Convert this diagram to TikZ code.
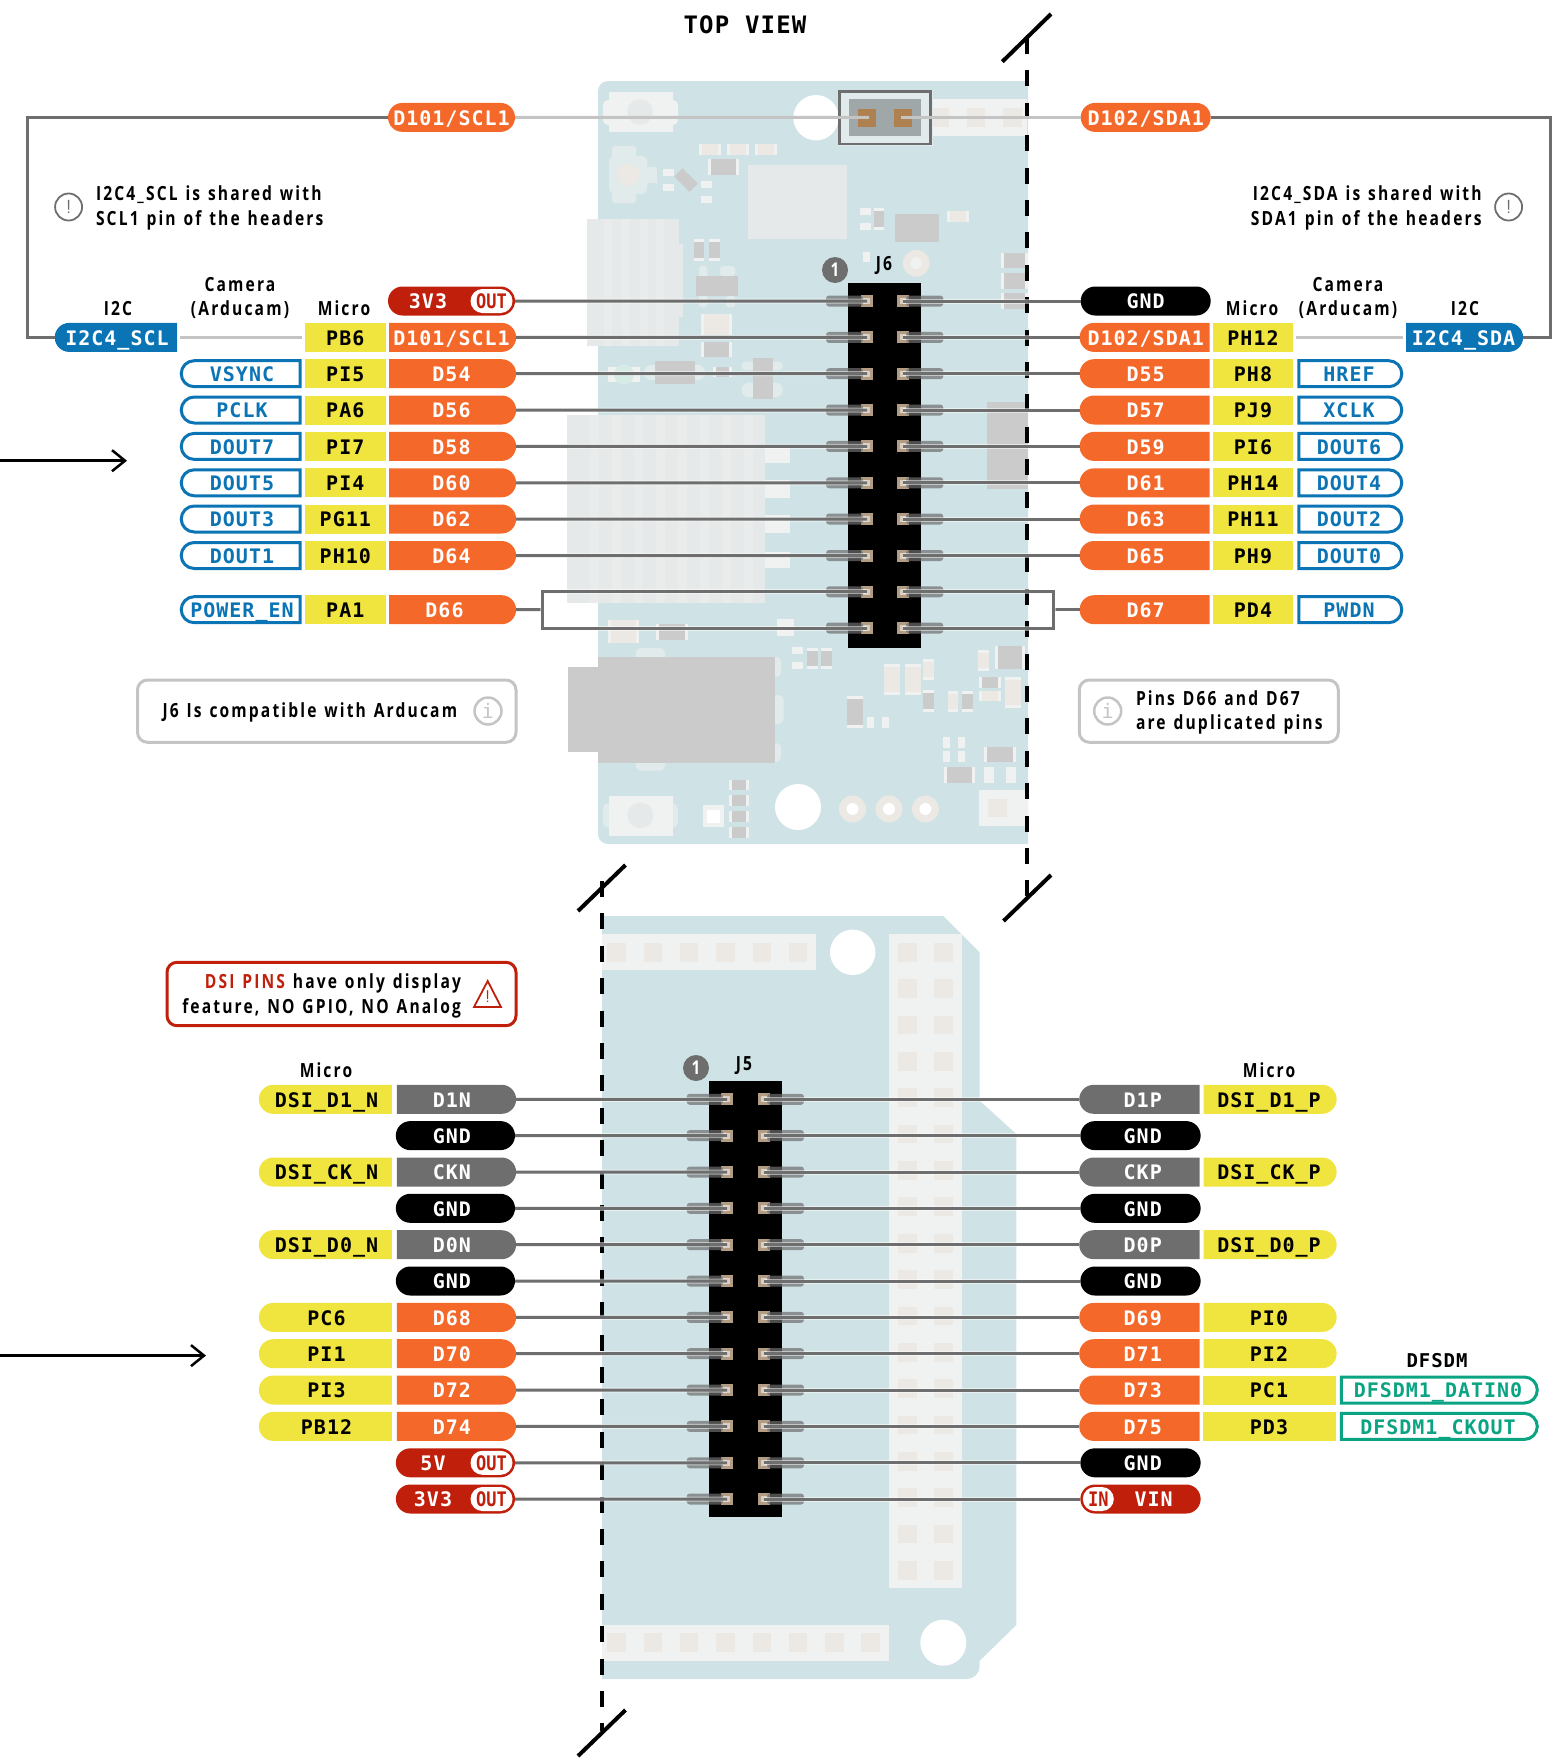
\documentclass[tikz,border=0pt]{standalone}
\usepackage{fontspec}
\usepackage{tikz}
\usetikzlibrary{arrows.meta,shapes.misc}
\newfontfamily\monofam[LetterSpace=5]{DejaVu Sans Mono}
\newfontfamily\narrowfam[FakeStretch=0.8,LetterSpace=11,WordSpace=1.27]{Open Sans}
\newfontfamily\slimfam[FakeStretch=0.85]{DejaVu Sans Mono}
\definecolor{cboard}{HTML}{CFE3E6}
\definecolor{corange}{HTML}{F4682A}
\definecolor{cyellow}{HTML}{F0E43F}
\definecolor{cblue}{HTML}{0B74B5}
\definecolor{cgreen}{HTML}{0BA483}
\definecolor{cred}{HTML}{C0200B}
\definecolor{cwire}{HTML}{6E6E6E}
\definecolor{cfaint}{HTML}{C4C4C4}
\definecolor{cgrey}{HTML}{CBCBCB}
\definecolor{cpink}{HTML}{ECE8E4}
\definecolor{cpale}{HTML}{F0F2F1}
\definecolor{cmist}{HTML}{E2EBEB}
\definecolor{csink}{HTML}{E6E9E9}
\definecolor{cpad}{HTML}{B39C84}
\definecolor{cled}{HTML}{D6EAE6}
\begin{document}
\begin{tikzpicture}[
  x=1pt,y=-1pt,
  every node/.style={inner sep=0pt,outer sep=0pt},
  pill/.style={shape=rounded rectangle,minimum height=29pt,text height=15.5pt,text depth=0pt,text=white,font=\monofam\bfseries\fontsize{20}{24}\selectfont},
  roundw/.style={pill,rounded rectangle east arc=none},
  rounde/.style={pill,rounded rectangle west arc=none},
  micro/.style={shape=rectangle,minimum height=29pt,text height=15.5pt,text depth=0pt,fill=cyellow,text=black,font=\monofam\bfseries\fontsize{20}{24}\selectfont},
  camw/.style={roundw,minimum height=26pt,draw=cblue,line width=3pt,fill=white,text=cblue},
  came/.style={rounde,minimum height=26pt,draw=cblue,line width=3pt,fill=white,text=cblue},
  dfsd/.style={rounde,minimum height=26pt,draw=cgreen,line width=3pt,fill=white,text=cgreen},
  badge/.style={shape=rounded rectangle,minimum height=24pt,minimum width=42pt,text height=15.5pt,text depth=0pt,fill=white,text=cred,font=\slimfam\bfseries\fontsize{20}{24}\selectfont},
  plate/.style={text height=15.5pt,text depth=0pt,text=white,font=\monofam\bfseries\fontsize{20}{24}\selectfont},
  toleft/.style={execute at end node=\kern7pt},
  toright/.style={execute at begin node=\kern4.5pt},
  heading/.style={align=center,font=\narrowfam\bfseries\fontsize{19.5}{24.5}\selectfont},
  note/.style={heading},
  notebox/.style={draw=cfaint,line width=3pt,rounded corners=10pt},
  noteicon/.style={shape=circle,minimum size=27pt,draw=cwire,line width=1.8pt,text=cwire,font=\fontfamily{lmss}\selectfont\fontsize{19}{20}\selectfont},
  infoicon/.style={noteicon,draw=cfaint,line width=2.5pt,text=cfaint,font=\monofam\fontsize{20}{20}\selectfont},
  one/.style={shape=circle,minimum size=26pt,fill=cwire,text=white,font=\narrowfam\bfseries\fontsize{19}{20}\selectfont},
  wire/.style={draw=cwire,line width=3pt,preaction={draw=white,line width=5pt,opacity=.5}},
  lightwire/.style={draw=cfaint,line width=3pt},
  cutline/.style={line width=4pt,dash pattern=on 16pt off 16.4pt},
  slash/.style={line width=4pt}]
\useasboundingbox (0,0) rectangle (1558,1764);
% upper board
\fill[cboard,rounded corners=10pt] (1028,81) -- (598,81) -- (598,844) -- (1028,844);
\fill[cpale,rounded corners=5pt] (603,100) rectangle (678,125);
\fill[cpale] (609,92) rectangle (673,132);
\fill[csink] (640,112) circle (12.7);
\fill[white] (816,117.7) circle (22.7);
\fill[cpale] (921,99.3) rectangle (1027,135.7);
\foreach \x in {930.7,966.7,1003.3} \fill[cpink] (\x,108) rectangle (\x+18.3,126.7);
% connector and small parts at the top
\fill[cmist,rounded corners=3pt] (612,146) rectangle (636,203.3);
\fill[cmist,rounded corners=6pt] (609,156) rectangle (647.3,194);
\fill[cmist] (647.3,167.3) rectangle (656.7,182.7);
\fill[cpink] (628.3,174.7) circle (11);
\fill[csink] (747.7,165) rectangle (846.7,239.3);
\fill[cgrey] (895,214) rectangle (938.7,241.7);
\fill[cgrey] (987,402) rectangle (1027.7,489);
\fill[cgrey] (674.1,176.5) -- (682.5,168.1) -- (697.9,183.5) -- (689.5,191.9) -- cycle;
\foreach \a/\b/\c/\d in {662.7/169.3/673.7/176,662.7/184.3/673.7/190.7,701/181/711.7/188,701/196/711.7/202.7,860/208/870.7/215,860/223/870.7/230,862.7/251.7/870/261.7,777/619/793.6/636,792/647.3/803/654,792/662.3/803/669,867/716.7/874/727.7,881.8/716.7/888.6/727.7,942.9/737.3/950/747.7,957.5/737.3/965/747.7,942.9/751/950/761.7,957.5/751/965/761.7,984/767.3/994/782.7,1006/767.3/1015.7/782.7}
  \fill[cpale] (\a,\b) rectangle (\c,\d);
% heat sinks
\fill[csink] (679,244) rectangle (682.7,316.7);
\fill[csink] (586.7,219) rectangle (679,345.7);
\foreach \x in {604,622,640,656} \fill[cpale!35!csink] (\x,219) rectangle (\x+8,345.7);
\foreach \b/\d in {448/463,480/498,515/532.7,551.7/567.7} \fill[cpale] (765,\b) rectangle (790,\d);
\fill[csink] (567,415) rectangle (764.6,602.7);
\foreach \x in {590,612,634,656,678,700,722,744} \fill[cpale!35!csink] (\x,415) rectangle (\x+9,602.7);
% parts with ends, vertical
\foreach \a/\b/\c/\d/\k in {874/208/884.3/230/cgrey,694/239.3/704.3/260.7/cgrey,709.3/239.3/719.7/260.7/cgrey,806.8/647.7/817.5/669/cgrey,821/647.7/832/669/cgrey,884/664/900/695.3/cpink,905/664/920.7/695.3/cpink,923/659/934/680/cpink,923/690/934/711.7/cgrey,846.8/696/862.9/727.7/cgrey,947.5/690.7/957.9/711.7/cpink,961.8/690.7/972.5/711.7/cgrey,977.9/650/988.6/670.7/cpink,1005/677.3/1020.7/707.7/cpink}
  {\fill[cpale] (\a,\b) rectangle (\c,\d); \fill[\k] (\a,\b+3) rectangle (\c,\d-3);}
% parts with ends, horizontal
\foreach \a/\b/\c/\d/\k in {699/144/720.7/154.7/cpink,726.7/144/748.7/154.7/cpink,755/144/776.7/154.7/cpink,708/158.7/739.3/175/cgrey,947/211/968.7/221.7/cpink,1001/252.7/1027.7/268.3/cgrey,1001/273.3/1027.7/289/cgrey,1001/293.3/1027.7/309/cgrey,701.3/314/732.3/335/cpink,701.3/342/732.3/356.7/cgrey,712.7/367.3/732.3/377.3/cgrey,607.9/620/639.3/643.3/cpink,656/624/687.5/640/cgrey,994.6/646/1025/669/cgrey,979/676.7/1000.7/687.7/cgrey,979/690.7/1000.7/700.7/cpink,984.3/746.7/1015.7/762/cgrey,944/767/975/782.7/cgrey,728.6/780/749.3/790/cgrey,728.6/795.3/749.3/806/cgrey,728.6/811/749.3/822.3/cgrey,728.6/827/749.3/837.7/cgrey}
  {\fill[cpale] (\a,\b) rectangle (\c,\d); \fill[\k] (\a+3,\b) rectangle (\c-3,\d);}
% regulators and led
\fill[cmist,rounded corners=3pt] (699,266) rectangle (707.3,307.3);
\fill[cmist,rounded corners=3pt] (720,266) rectangle (735,276);
\fill[cmist,rounded corners=3pt] (726,296) rectangle (735,307.3);
\fill[cgrey] (696,276) rectangle (737.7,296);
\fill[cpale] (608.3,366.7) rectangle (640,381.7);
\fill[cled] (624,374.3) circle (10);
\fill[cmist,rounded corners=7pt] (644,365) rectangle (705,380);
\fill[cgrey] (655,361) rectangle (694.7,383.7);
\fill[cmist,rounded corners=4pt] (741.7,361.7) rectangle (782.7,370);
\fill[cmist,rounded corners=7pt] (741.7,382.7) rectangle (782.7,397.3);
\fill[cgrey] (753.3,358.3) rectangle (772.7,399.3);
\fill[cpink] (916.3,263.3) circle (13.3);
\fill[cpale] (916.3,263.3) circle (6);
% usb connector
\fill[cmist,rounded corners=6pt] (635.7,648) rectangle (665,770.7);
\fill[cmist,rounded corners=5pt] (770,657) rectangle (781,677);
\fill[cmist,rounded corners=5pt] (770,695) rectangle (783.6,724);
\fill[cmist,rounded corners=5pt] (770,743) rectangle (781,762);
\fill[cgrey] (598,657) rectangle (775,762.7);
\fill[cgrey] (567.9,667) rectangle (598,751.7);
% lower parts of the upper board
\fill[cmist,rounded corners=5pt] (602.9,803.3) rectangle (677.9,827.7);
\fill[cpale] (609,796) rectangle (672.5,835.7);
\fill[csink] (640.4,815.3) circle (13);
\fill[cpale] (702.9,805.3) rectangle (724.3,826.7);
\fill[white] (707,810) rectangle (719.6,822.7);
\fill[white] (798,807) circle (23);
\foreach \x in {852.5,889,925.4} {\fill[cpink] (\x,809) circle (13.5); \fill[white] (\x,809) circle (6);}
\fill[cpale] (979,790) rectangle (1027.7,826);
\fill[cpink] (987.5,799) rectangle (1007,817);
% jumper
\fill[cmist] (837.5,89.5) rectangle (932.5,146);
\draw[draw=cwire,line width=2.5pt] (839.3,91.3) rectangle (930.7,144);
\fill[gray!60!cboard] (848.7,99.3) rectangle (921.3,135.7);
\fill[brown!75!gray] (857.7,108.7) rectangle (876,126.7);
\fill[brown!75!gray] (894.3,108.7) rectangle (912.3,126.7);
\coordinate (jtl) at (869,117.4);
\coordinate (jtr) at (901,117.4);
% lower board
\fill[cboard] (602,916) -- (943.3,916) -- (979.7,952.3) -- (979.7,1100.7) -- (1016.3,1134) -- (1016.3,1625) -- (979.7,1660.7) [rounded corners=13pt] -- (979.7,1679) -- (960,1679) [sharp corners] -- (602,1679) -- cycle;
\fill[cpale] (602,934) rectangle (816.3,970.3);
\fill[cpale] (889,934) rectangle (961.7,1588.3);
\fill[cpale] (602,1625) rectangle (889,1660.7);
\foreach \i in {0,...,5} \fill[cpink] (607.3+36.3*\i,943) rectangle (625.7+36.3*\i,961.7);
\foreach \i in {0,...,7} \fill[cpink] (607.3+36.3*\i,1633.3) rectangle (625.7+36.3*\i,1651.7);
\foreach \i in {0,...,17} {\fill[cpink] (898,943+36.35*\i) rectangle (916.7,961.7+36.35*\i); \fill[cpink] (934,943+36.35*\i) rectangle (952.7,961.7+36.35*\i);}
\fill[white] (852.7,952.3) circle (22.7);
\fill[white] (943.3,1642.7) circle (23);
% headers
\fill[black] (848,283) rectangle (920.7,648);
\fill[black] (709,1081) rectangle (781.7,1516.7);
\foreach \y [count=\i from 0] in {301,337.4,373.7,410,446.4,482.8,519,555.5,591.8,628}
  {\fill[cpad] (861,\y-6) rectangle (873,\y+6); \fill[cpad] (896.7,\y-6) rectangle (908.7,\y+6);
   \fill[cpad!50!white] (863,\y-3) rectangle (870,\y+3); \fill[cpad!50!white] (900,\y-3) rectangle (906.7,\y+3);
   \fill[cwire,opacity=.7,rounded corners=3pt] (826,\y-5.5) rectangle (863,\y+5.5);
   \fill[cwire,opacity=.7,rounded corners=3pt] (906,\y-5.5) rectangle (943.3,\y+5.5);
   \coordinate (jl\i) at (867,\y); \coordinate (jr\i) at (902.7,\y);}
\foreach \y [count=\i from 0] in {1099.3,1135.6,1172,1208.3,1244.7,1281,1317.4,1353.7,1390,1426.4,1462.8,1499}
  {\fill[cpad] (721,\y-6) rectangle (733,\y+6); \fill[cpad] (758,\y-6) rectangle (770,\y+6);
   \fill[cpad!50!white] (723,\y-3) rectangle (730,\y+3); \fill[cpad!50!white] (761,\y-3) rectangle (768,\y+3);
   \fill[cwire,opacity=.7,rounded corners=3pt] (686.7,\y-5.5) rectangle (723,\y+5.5);
   \fill[cwire,opacity=.7,rounded corners=3pt] (767,\y-5.5) rectangle (804,\y+5.5);
   \coordinate (kl\i) at (727,\y); \coordinate (kr\i) at (764,\y);}
% cut lines
\draw[cutline] (1027,38) -- (1027,896);
\draw[cutline] (602,881) -- (602,1731);
\draw[slash] (1002.3,61.7) -- (1051,14);
\draw[slash] (1003.5,921) -- (1051,875);
\draw[slash] (578,911) -- (625.5,865);
\draw[slash] (578,1756) -- (625.5,1710);
% arrows
\coordinate (arra) at (0,460.7);
\coordinate (arrb) at (127,460.7);
\coordinate (arrc) at (0,1355.6);
\coordinate (arrd) at (206,1355.6);
\draw[line width=2.5pt,-{Straight Barb[length=13pt,width=21pt]}] (arra) -- (arrb);
\draw[line width=2.5pt,-{Straight Barb[length=13pt,width=21pt]}] (arrc) -- (arrd);
% titles
\node[font=\monofam\bfseries\fontsize{24}{28}\selectfont] (title) at (745,25) {TOP VIEW};
\node[heading] (hia) at (118,309) {I2C};
\node[heading] (hca) at (240,298) {Camera\\(Arducam)};
\node[heading] (hma) at (344,308) {Micro};
\node[heading] (hmb) at (1252,308) {Micro};
\node[heading] (hcb) at (1348,298) {Camera\\(Arducam)};
\node[heading] (hib) at (1465,309) {I2C};
\node[heading] (hmc) at (326,1070) {Micro};
\node[heading] (hmd) at (1269,1070) {Micro};
\node[font=\monofam\bfseries\fontsize{19}{20}\selectfont] (hdf) at (1437,1361) {DFSDM};
\node[heading] (hja) at (884,266) {J6};
\node[heading] (hjb) at (744,1066) {J5};
\node[one] (ona) at (835,270) {1};
\node[one] (onb) at (696,1068) {1};
% notes
\node[noteicon] (ica) at (68.6,207) {!};
\node[note,anchor=west,align=left] (nta) at (96,208) {I2C4\_SCL is shared with\\SCL1 pin of the headers};
\node[note,anchor=east,align=right] (ntb) at (1481.6,208) {I2C4\_SDA is shared with\\SDA1 pin of the headers};
\node[noteicon] (icb) at (1508.6,207) {!};
\draw[notebox] (137.5,680) rectangle (516,742.3);
\node[note,anchor=west] (ntc) at (162.5,712) {J6 Is compatible with Arducam};
\node[infoicon] (icc) at (488,711) {i};
\draw[notebox] (1079.3,680) rectangle (1338.3,742.3);
\node[infoicon] (icd) at (1107.7,711) {i};
\node[note,anchor=west,align=left] (ntd) at (1136,712.5) {Pins D66 and D67\\are duplicated pins};
\draw[notebox,draw=cred] (167,962.3) rectangle (516,1025.7);
\node[note,anchor=east,align=right] (nte) at (461,996) {\textcolor{cred}{DSI PINS} have only display\\feature, NO GPIO, NO Analog};
\draw[cred,line width=1.8pt] (487.7,981) -- (501,1007) -- (474,1007) -- cycle;
\node[text=cred,font=\fontfamily{lmss}\selectfont\fontsize{17}{20}\selectfont] (wrn) at (487.7,997) {!};
% J6 pins left
\node[pill,minimum width=127pt,fill=corange] (ptl) at (451.5,117.4) {D101/SCL1};
\node[pill,minimum width=127pt,fill=cred] (pl0) at (451.5,301) {};
\node[plate] (pl0t) at (428,301) {3V3};
\node[badge] (pl0b) at (491.5,301) {OUT};
\node[rounde,minimum width=127pt,fill=corange] (pl1) at (451.5,337.4) {D101/SCL1};
\node[rounde,minimum width=127pt,fill=corange] (pl2) at (451.5,373.7) {D54};
\node[rounde,minimum width=127pt,fill=corange] (pl3) at (451.5,410) {D56};
\node[rounde,minimum width=127pt,fill=corange] (pl4) at (451.5,446.4) {D58};
\node[rounde,minimum width=127pt,fill=corange] (pl5) at (451.5,482.8) {D60};
\node[rounde,minimum width=127pt,fill=corange] (pl6) at (451.5,519) {D62};
\node[rounde,minimum width=127pt,fill=corange] (pl7) at (451.5,555.5) {D64};
\node[rounde,minimum width=127pt,fill=corange,execute at end node=\kern14pt] (pl8) at (451.5,609.7) {D66};
% J6 micro left
\node[micro,minimum width=80.5pt] (ml1) at (345.3,337.4) {PB6};
\node[micro,minimum width=80.5pt] (ml2) at (345.3,373.7) {PI5};
\node[micro,minimum width=80.5pt] (ml3) at (345.3,410) {PA6};
\node[micro,minimum width=80.5pt] (ml4) at (345.3,446.4) {PI7};
\node[micro,minimum width=80.5pt] (ml5) at (345.3,482.8) {PI4};
\node[micro,minimum width=80.5pt] (ml6) at (345.3,519) {PG11};
\node[micro,minimum width=80.5pt] (ml7) at (345.3,555.5) {PH10};
\node[micro,minimum width=80.5pt] (ml8) at (345.3,609.7) {PA1};
% J6 camera left
\node[roundw,minimum width=122.3pt,fill=cblue] (il) at (117,337.4) {I2C4\_SCL};
\node[camw,minimum width=119pt] (cl2) at (242,373.7) {VSYNC};
\node[camw,minimum width=119pt] (cl3) at (242,410) {PCLK};
\node[camw,minimum width=119pt] (cl4) at (242,446.4) {DOUT7};
\node[camw,minimum width=119pt] (cl5) at (242,482.8) {DOUT5};
\node[camw,minimum width=119pt] (cl6) at (242,519) {DOUT3};
\node[camw,minimum width=119pt] (cl7) at (242,555.5) {DOUT1};
\node[camw,minimum width=119pt] (cl8) at (242,609.7) {POWER\_EN};
% J6 pins right
\node[pill,minimum width=130pt,fill=corange] (ptr) at (1145.7,117.4) {D102/SDA1};
\node[pill,minimum width=130pt,fill=black] (pr0) at (1145.7,301) {GND};
\node[roundw,minimum width=130pt,fill=corange] (pr1) at (1145.7,337.4) {D102/SDA1};
\node[roundw,minimum width=130pt,fill=corange] (pr2) at (1145.7,373.7) {D55};
\node[roundw,minimum width=130pt,fill=corange] (pr3) at (1145.7,410) {D57};
\node[roundw,minimum width=130pt,fill=corange] (pr4) at (1145.7,446.4) {D59};
\node[roundw,minimum width=130pt,fill=corange] (pr5) at (1145.7,482.8) {D61};
\node[roundw,minimum width=130pt,fill=corange] (pr6) at (1145.7,519) {D63};
\node[roundw,minimum width=130pt,fill=corange] (pr7) at (1145.7,555.5) {D65};
\node[roundw,minimum width=130pt,fill=corange] (pr8) at (1145.7,609.7) {D67};
% J6 micro right
\node[micro,minimum width=80pt] (mr1) at (1253,337.4) {PH12};
\node[micro,minimum width=80pt] (mr2) at (1253,373.7) {PH8};
\node[micro,minimum width=80pt] (mr3) at (1253,410) {PJ9};
\node[micro,minimum width=80pt] (mr4) at (1253,446.4) {PI6};
\node[micro,minimum width=80pt] (mr5) at (1253,482.8) {PH14};
\node[micro,minimum width=80pt] (mr6) at (1253,519) {PH11};
\node[micro,minimum width=80pt] (mr7) at (1253,555.5) {PH9};
\node[micro,minimum width=80pt] (mr8) at (1253,609.7) {PD4};
% J6 camera right
\node[rounde,minimum width=117pt,fill=cblue] (ir) at (1463.5,337.4) {I2C4\_SDA};
\node[came,minimum width=103pt] (cr2) at (1349,373.7) {HREF};
\node[came,minimum width=103pt] (cr3) at (1349,410) {XCLK};
\node[came,minimum width=103pt] (cr4) at (1349,446.4) {DOUT6};
\node[came,minimum width=103pt] (cr5) at (1349,482.8) {DOUT4};
\node[came,minimum width=103pt] (cr6) at (1349,519) {DOUT2};
\node[came,minimum width=103pt] (cr7) at (1349,555.5) {DOUT0};
\node[came,minimum width=103pt] (cr8) at (1349,609.7) {PWDN};
% J5 left
\node[rounde,toleft,minimum width=119.2pt,fill=cwire] (ql0) at (455.4,1099.3) {D1N};
\node[pill,toleft,minimum width=119.2pt,fill=black] (ql1) at (455.4,1135.6) {GND};
\node[rounde,toleft,minimum width=119.2pt,fill=cwire] (ql2) at (455.4,1172) {CKN};
\node[pill,toleft,minimum width=119.2pt,fill=black] (ql3) at (455.4,1208.3) {GND};
\node[rounde,toleft,minimum width=119.2pt,fill=cwire] (ql4) at (455.4,1244.7) {D0N};
\node[pill,toleft,minimum width=119.2pt,fill=black] (ql5) at (455.4,1281) {GND};
\node[rounde,toleft,minimum width=119.2pt,fill=corange] (ql6) at (455.4,1317.4) {D68};
\node[rounde,toleft,minimum width=119.2pt,fill=corange] (ql7) at (455.4,1353.7) {D70};
\node[rounde,toleft,minimum width=119.2pt,fill=corange] (ql8) at (455.4,1390) {D72};
\node[rounde,toleft,minimum width=119.2pt,fill=corange] (ql9) at (455.4,1426.4) {D74};
\node[pill,minimum width=119.2pt,fill=cred] (ql10) at (455.4,1462.8) {};
\node[plate] (ql10t) at (433,1462.8) {5V};
\node[badge] (ql10b) at (491.5,1462.8) {OUT};
\node[pill,minimum width=119.2pt,fill=cred] (ql11) at (455.4,1499) {};
\node[plate] (ql11t) at (433,1499) {3V3};
\node[badge] (ql11b) at (491.5,1499) {OUT};
% J5 micro left
\node[roundw,minimum width=133pt,fill=cyellow,text=black] (yl0) at (326.5,1099.3) {DSI\_D1\_N};
\node[roundw,minimum width=133pt,fill=cyellow,text=black] (yl2) at (326.5,1172) {DSI\_CK\_N};
\node[roundw,minimum width=133pt,fill=cyellow,text=black] (yl4) at (326.5,1244.7) {DSI\_D0\_N};
\node[roundw,minimum width=133pt,fill=cyellow,text=black] (yl6) at (326.5,1317.4) {PC6};
\node[roundw,minimum width=133pt,fill=cyellow,text=black] (yl7) at (326.5,1353.7) {PI1};
\node[roundw,minimum width=133pt,fill=cyellow,text=black] (yl8) at (326.5,1390) {PI3};
\node[roundw,minimum width=133pt,fill=cyellow,text=black] (yl9) at (326.5,1426.4) {PB12};
% J5 right
\node[roundw,toright,minimum width=120.3pt,fill=cwire] (qr0) at (1140.5,1099.3) {D1P};
\node[pill,toright,minimum width=120.3pt,fill=black] (qr1) at (1140.5,1135.6) {GND};
\node[roundw,toright,minimum width=120.3pt,fill=cwire] (qr2) at (1140.5,1172) {CKP};
\node[pill,toright,minimum width=120.3pt,fill=black] (qr3) at (1140.5,1208.3) {GND};
\node[roundw,toright,minimum width=120.3pt,fill=cwire] (qr4) at (1140.5,1244.7) {D0P};
\node[pill,toright,minimum width=120.3pt,fill=black] (qr5) at (1140.5,1281) {GND};
\node[roundw,toright,minimum width=120.3pt,fill=corange] (qr6) at (1140.5,1317.4) {D69};
\node[roundw,toright,minimum width=120.3pt,fill=corange] (qr7) at (1140.5,1353.7) {D71};
\node[roundw,toright,minimum width=120.3pt,fill=corange] (qr8) at (1140.5,1390) {D73};
\node[roundw,toright,minimum width=120.3pt,fill=corange] (qr9) at (1140.5,1426.4) {D75};
\node[pill,toright,minimum width=120.3pt,fill=black] (qr10) at (1140.5,1462.8) {GND};
\node[pill,minimum width=120.3pt,fill=cred] (qr11) at (1140.5,1499) {};
\node[badge,minimum width=31pt] (qr11b) at (1098.3,1499) {IN};
\node[plate] (qr11t) at (1153.6,1499) {VIN};
% J5 micro right
\node[rounde,minimum width=133pt,fill=cyellow,text=black] (yr0) at (1269,1099.3) {DSI\_D1\_P};
\node[rounde,minimum width=133pt,fill=cyellow,text=black] (yr2) at (1269,1172) {DSI\_CK\_P};
\node[rounde,minimum width=133pt,fill=cyellow,text=black] (yr4) at (1269,1244.7) {DSI\_D0\_P};
\node[rounde,minimum width=133pt,fill=cyellow,text=black] (yr6) at (1269,1317.4) {PI0};
\node[rounde,minimum width=133pt,fill=cyellow,text=black] (yr7) at (1269,1353.7) {PI2};
\node[micro,minimum width=133pt] (yr8) at (1269,1390) {PC1};
\node[micro,minimum width=133pt] (yr9) at (1269,1426.4) {PD3};
\node[dfsd,minimum width=196pt] (dfa) at (1438,1390) {DFSDM1\_DATIN0};
\node[dfsd,minimum width=196pt] (dfb) at (1438,1426.4) {DFSDM1\_CKOUT};
% wires J6
\coordinate (dla) at (542,609.7);
\coordinate (dlb) at (1053.6,609.7);
\coordinate (cla) at (27,227);
\coordinate (clb) at (1550,227);
\draw[lightwire] (ptl) -- (jtl); \draw[lightwire] (ptr) -- (jtr);
\draw[wire] (ptl.west) -| (cla) |- (il.west);
\draw[wire] (ptr.east) -| (clb) |- (ir.east);
\draw[lightwire,shorten <=3pt,shorten >=3pt] (il.east) -- (ml1.west);
\draw[lightwire,shorten <=3pt,shorten >=3pt] (mr1.east) -- (ir.west);
\draw[wire] (pl0) -- (jl0); \draw[wire] (pl1) -- (jl1); \draw[wire] (pl2) -- (jl2);
\draw[wire] (pl3) -- (jl3); \draw[wire] (pl4) -- (jl4); \draw[wire] (pl5) -- (jl5);
\draw[wire] (pl6) -- (jl6); \draw[wire] (pl7) -- (jl7);
\draw[wire] (pr0) -- (jr0); \draw[wire] (pr1) -- (jr1); \draw[wire] (pr2) -- (jr2);
\draw[wire] (pr3) -- (jr3); \draw[wire] (pr4) -- (jr4); \draw[wire] (pr5) -- (jr5);
\draw[wire] (pr6) -- (jr6); \draw[wire] (pr7) -- (jr7);
\draw[wire] (pl8) -- (dla); \draw[wire] (pr8) -- (dlb);
\draw[wire] (jl8) -| (dla) |- (jl9);
\draw[wire] (jr8) -| (dlb) |- (jr9);
% wires J5
\draw[wire] (ql0) -- (kl0); \draw[wire] (ql1) -- (kl1); \draw[wire] (ql2) -- (kl2);
\draw[wire] (ql3) -- (kl3); \draw[wire] (ql4) -- (kl4); \draw[wire] (ql5) -- (kl5);
\draw[wire] (ql6) -- (kl6); \draw[wire] (ql7) -- (kl7); \draw[wire] (ql8) -- (kl8);
\draw[wire] (ql9) -- (kl9); \draw[wire] (ql10) -- (kl10); \draw[wire] (ql11) -- (kl11);
\draw[wire] (qr0) -- (kr0); \draw[wire] (qr1) -- (kr1); \draw[wire] (qr2) -- (kr2);
\draw[wire] (qr3) -- (kr3); \draw[wire] (qr4) -- (kr4); \draw[wire] (qr5) -- (kr5);
\draw[wire] (qr6) -- (kr6); \draw[wire] (qr7) -- (kr7); \draw[wire] (qr8) -- (kr8);
\draw[wire] (qr9) -- (kr9); \draw[wire] (qr10) -- (kr10); \draw[wire] (qr11) -- (kr11);
\end{tikzpicture}
\end{document}
